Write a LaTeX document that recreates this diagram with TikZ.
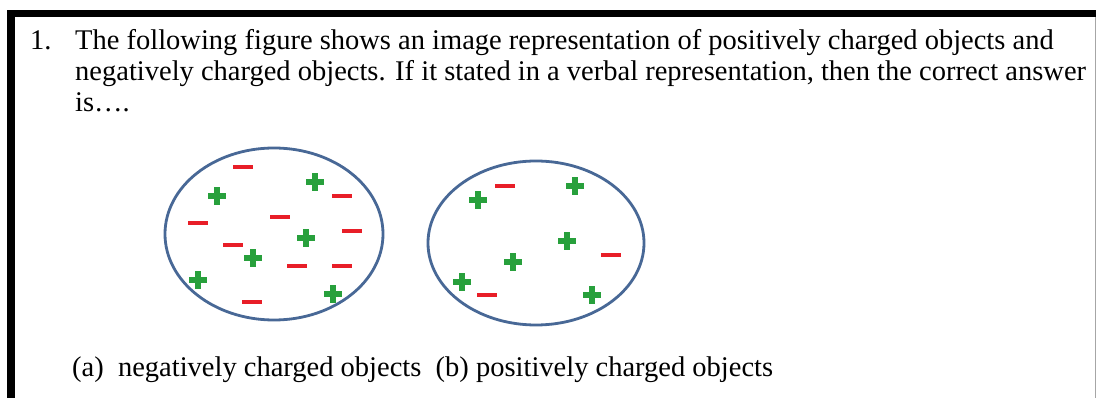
\documentclass[tikz,border=0pt]{standalone}
\usepackage{fontspec}
\setmainfont{Liberation Serif}
\definecolor{ringblue}{RGB}{72,104,150}
\definecolor{plusgreen}{RGB}{40,160,60}
\definecolor{minusred}{RGB}{232,30,40}
\tikzset{
  ring/.style={draw=ringblue, line width=2.8pt},
  qtext/.style={anchor=base west, inner sep=0pt, font=\fontsize{28.5}{32}\selectfont},
  plus/.pic={\fill[plusgreen] (-9,-2.7) rectangle (9,2.7); \fill[plusgreen] (-2.7,-9) rectangle (2.7,9);},
  minus/.pic={\fill[minusred] (-10,-2.4) rectangle (10,2.4);}
}
\begin{document}
\begin{tikzpicture}[x=1pt,y=-1pt]
\useasboundingbox (0,0) rectangle (1096,398);
\fill[white] (0,0) rectangle (1096,398);
% frame
\fill[black] (7,10) rectangle (1096,17);
\fill[black] (7,10) rectangle (15,398);
\draw[gray!70, line width=1pt] (1095,17) -- (1095,398);
% text
\node[qtext] (n1) at (30,50) {1.};
\node[qtext] (l1) at (75,50) {The following figure shows an image representation of positively charged objects and};
\node[qtext] (l2) at (75,81) {negatively charged objects. If it stated in a verbal representation, then the correct answer};
\node[qtext] (l3) at (75,112) {is….};
\node[qtext] (ans) at (72,377) {(a)\ \ negatively charged objects\ \ (b) positively charged objects};
% circles
\draw[ring] (274,234) ellipse [x radius=109, y radius=86];
\draw[ring] (536,243) ellipse [x radius=108, y radius=82];
% charges left
\foreach \p in {(243,167),(342,196),(198,223),(280,217),(352,231),(233,245),(297,266),(342,266),(252,302)}
  \pic at \p {minus};
\foreach \p in {(315,182),(217,196),(306,238),(253,258),(198,280),(333,294)}
  \pic at \p {plus};
% charges right
\foreach \p in {(505,186),(611,255),(487,295)}
  \pic at \p {minus};
\foreach \p in {(478,200),(575,186),(567,241),(513,262),(462,282),(592,295)}
  \pic at \p {plus};
\end{tikzpicture}
\end{document}
